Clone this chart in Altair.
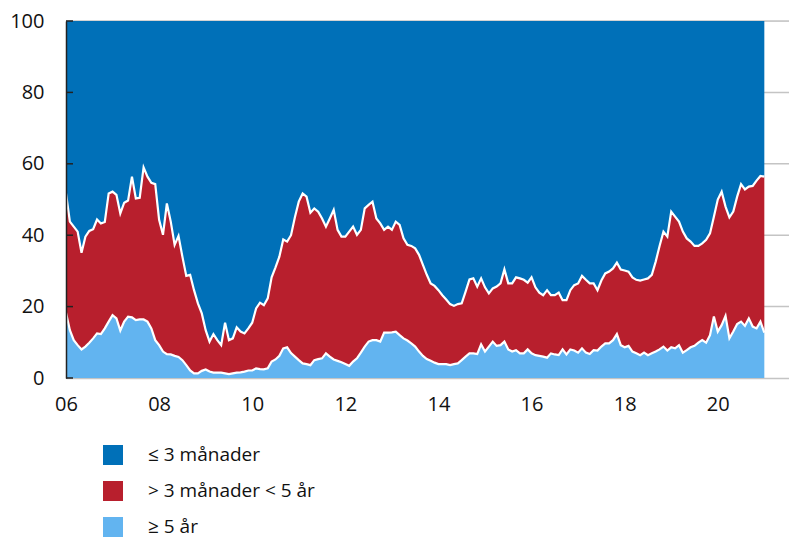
import altair as alt
import pandas as pd

# Share (%) with maturity >= 5 years (bottom band), monthly from Jan 2006
ge5 = [18.3, 13.4, 10.6, 9.2, 8.0, 8.8, 9.9, 11.1, 12.5, 12.3, 13.9, 15.8,
       17.6, 16.7, 13.3, 15.8, 17.2, 17.0, 16.2, 16.4, 16.4, 15.8, 13.9, 10.6,
       9.2, 7.4, 6.7, 6.6, 6.2, 5.9, 5.0, 3.6, 2.1, 1.3, 1.3, 2.0,
       2.4, 1.8, 1.5, 1.5, 1.5, 1.3, 1.1, 1.3, 1.5, 1.6, 1.8, 2.1,
       2.1, 2.7, 2.5, 2.4, 2.7, 4.6, 5.2, 6.2, 8.3, 8.6, 7.0, 6.0,
       5.0, 4.1, 3.9, 3.6, 5.0, 5.3, 5.5, 6.9, 6.0, 5.2, 4.8, 4.4,
       3.9, 3.4, 4.6, 5.5, 7.1, 8.8, 10.2, 10.6, 10.6, 10.2, 12.7, 12.7,
       12.8, 13.0, 12.0, 11.1, 10.5, 9.7, 8.8, 7.4, 6.2, 5.3, 4.8, 4.3,
       3.9, 3.9, 3.9, 3.6, 3.9, 4.1, 5.0, 6.0, 6.9, 6.9, 6.7, 9.4,
       7.4, 8.8, 10.2, 9.0, 9.2, 10.2, 8.0, 7.4, 7.8, 6.9, 6.9, 8.0,
       6.9, 6.4, 6.2, 6.0, 5.7, 6.9, 6.6, 6.4, 8.0, 6.6, 8.0, 7.7,
       7.1, 8.3, 7.1, 6.7, 7.8, 7.7, 8.8, 9.7, 9.7, 10.6, 12.3, 9.2,
       8.6, 9.0, 7.4, 6.9, 6.4, 7.1, 6.4, 6.9, 7.4, 8.0, 8.8, 7.7,
       8.6, 8.3, 9.2, 7.1, 7.8, 8.6, 9.0, 9.9, 10.6, 9.9, 12.0, 17.2,
       13.0, 14.8, 17.4, 11.1, 13.0, 15.1, 15.8, 14.6, 16.7, 14.4, 13.9, 15.8,
       12.7]

# Share (%) with maturity > 3 months (top of red band, cumulative)
gt3m = [51.7, 43.8, 42.4, 41.0, 35.1, 39.6, 41.2, 41.7, 44.4, 43.3, 43.7, 51.7,
        52.2, 51.3, 46.1, 49.1, 49.7, 56.4, 50.3, 50.5, 59.0, 56.4, 54.7, 54.3,
        44.3, 40.1, 48.9, 43.8, 37.3, 39.8, 34.0, 28.6, 28.9, 24.6, 20.9, 18.1,
        13.4, 10.2, 12.3, 10.6, 9.2, 15.5, 10.6, 11.1, 14.2, 13.0, 12.5, 13.9,
        15.5, 19.5, 21.1, 20.4, 22.3, 28.2, 31.0, 34.0, 38.8, 38.2, 40.0, 45.0,
        49.4, 51.7, 50.8, 46.3, 47.5, 46.6, 44.7, 42.4, 44.7, 47.1, 41.5, 39.6,
        39.6, 41.0, 42.4, 40.1, 41.5, 47.5, 48.5, 49.4, 44.7, 43.3, 41.5, 42.4,
        41.5, 43.8, 42.9, 39.1, 37.3, 37.0, 36.3, 34.5, 31.7, 28.9, 26.5, 25.8,
        24.6, 23.2, 22.0, 20.7, 20.2, 20.7, 20.9, 24.2, 27.6, 27.9, 25.6, 27.9,
        25.4, 23.7, 25.1, 25.6, 26.5, 30.4, 26.5, 26.5, 28.2, 27.9, 27.5, 26.7,
        28.2, 25.4, 23.9, 23.2, 24.6, 23.2, 23.2, 23.9, 21.8, 21.8, 24.6, 26.0,
        26.5, 28.6, 27.5, 26.5, 26.5, 24.6, 27.3, 29.3, 29.8, 30.7, 32.3, 30.4,
        30.1, 29.8, 28.2, 27.5, 27.3, 27.6, 27.9, 28.9, 32.6, 37.0, 41.0, 39.6,
        46.6, 45.2, 43.8, 41.0, 39.1, 38.2, 37.0, 37.0, 37.7, 38.7, 40.5, 45.2,
        50.0, 52.2, 48.0, 45.0, 46.6, 50.8, 54.3, 52.8, 53.6, 53.8, 55.3, 56.6,
        56.4]

series = ["≤ 3 månader", "> 3 månader < 5 år", "≥ 5 år"]
colors = ["#0070B8", "#B81F2D", "#62B4F0"]
tick_years = [2006, 2008, 2010, 2012, 2014, 2016, 2018, 2020]
y_ticks = [0, 20, 40, 60, 80, 100]

years = [2006 + i / 12 for i in range(len(ge5))]

rows = []
for yr, b, t in zip(years, ge5, gt3m):
    rows.append({"year": yr, "serie": series[0], "lo": t, "hi": 100})
    rows.append({"year": yr, "serie": series[1], "lo": b, "hi": t})
    rows.append({"year": yr, "serie": series[2], "lo": 0, "hi": b})
area_df = pd.DataFrame(rows)

line_rows = []
for yr, b, t in zip(years, ge5, gt3m):
    line_rows.append({"year": yr, "grans": "b", "v": b})
    line_rows.append({"year": yr, "grans": "t", "v": t})
line_df = pd.DataFrame(line_rows)

W, H = 723, 357
FONT = "Open Sans"

xscale = alt.Scale(domain=[2006, 2021.53], nice=False, zero=False)
yscale = alt.Scale(domain=[0, 100], nice=False)

xaxis = alt.Axis(values=tick_years, title=None, grid=False, ticks=False,
                 tickSize=0, labelExpr="substring(toString(datum.value), 2)",
                 labelFontSize=20, labelFont=FONT, labelColor="#111",
                 labelPadding=16, domainColor="#c4c4c4", domainWidth=1.5,
                 labelFlush=False)
yaxis = alt.Axis(values=y_ticks, title=None, grid=False, ticks=False,
                 tickSize=0, labelFontSize=20, labelFont=FONT,
                 labelColor="#111", labelPadding=22, domainColor="#222",
                 domainWidth=1.5, zindex=1)

grid = alt.Chart(pd.DataFrame({"g": y_ticks[1:]})).mark_rule(
    color="#c4c4c4", strokeWidth=1.5
).encode(
    y=alt.Y("g:Q", scale=yscale, axis=yaxis),
    x=alt.value(0), x2=alt.value(W)
)

areas = alt.Chart(area_df).mark_area(opacity=1, interpolate="linear").encode(
    x=alt.X("year:Q", scale=xscale, axis=xaxis),
    y=alt.Y("lo:Q", scale=yscale, axis=yaxis),
    y2="hi:Q",
    color=alt.Color("serie:N", scale=alt.Scale(domain=series, range=colors),
                    legend=alt.Legend(title=None, orient="none", legendX=37,
                                      legendY=424, symbolType="square",
                                      symbolSize=400, symbolStrokeWidth=0,
                                      labelFontSize=19, labelFont=FONT,
                                      labelColor="#111", labelOffset=25,
                                      labelLimit=400,
                                      rowPadding=16, padding=0)),
    order=alt.Order("serie:N")
)

lines = alt.Chart(line_df).mark_line(color="white", strokeWidth=2.2).encode(
    x=alt.X("year:Q", scale=xscale, axis=xaxis),
    y=alt.Y("v:Q", scale=yscale, axis=yaxis),
    detail="grans:N"
)

ticks = alt.Chart(pd.DataFrame({"t": y_ticks})).mark_rule(
    color="#222", strokeWidth=1.5
).encode(
    y=alt.Y("t:Q", scale=yscale, axis=yaxis),
    x=alt.value(0), x2=alt.value(7)
)

chart = alt.layer(grid, areas, lines, ticks).properties(
    width=W, height=H,
    autosize=alt.AutoSizeParams(type="none"),
    padding={"left": 58, "top": 13, "right": 0, "bottom": 161}
).configure_view(stroke=None).configure(font=FONT)

chart.save("out.html", embed_options={"renderer": "svg", "actions": False})
